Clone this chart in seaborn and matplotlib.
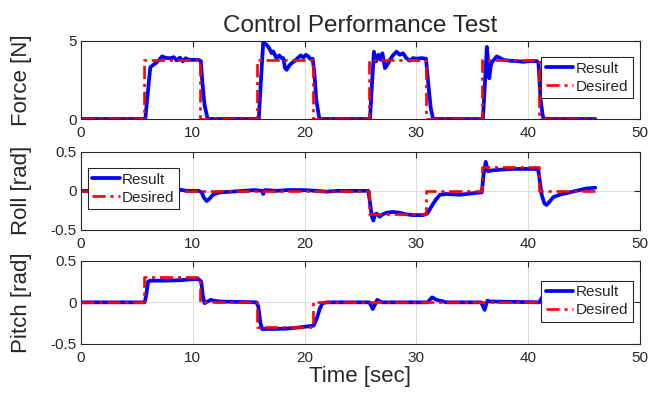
import matplotlib
matplotlib.use("Agg")
import matplotlib.pyplot as plt
import seaborn as sns
import pandas as pd

# ---------------- data ----------------
desired_t = [0, 5.6, 10.65, 15.7, 20.75, 25.8, 30.85, 35.9, 40.95, 46.0]
force_desired = [0, 3.75, 0, 3.75, 0, 3.75, 0, 3.75, 0, 0]
roll_desired = [0, 0, 0, 0, 0, -0.3, 0, 0.3, 0, 0]
pitch_desired = [0, 0.3, 0, -0.3, 0, 0, 0, 0, 0, 0]

force_t = [0, 5.75, 5.95, 6.2, 6.45, 6.75, 7.0, 7.25, 7.6, 8.0, 8.3, 8.55, 8.85, 9.1, 9.35, 9.65, 10.0,
           10.5, 10.72, 10.85, 11.05, 11.3, 11.45,
           15.9, 16.1, 16.3, 16.6, 16.83, 17.05, 17.2, 17.5, 17.74, 17.95, 18.1, 18.25, 18.4, 18.63, 18.85,
           19.14, 19.44, 19.65, 19.9, 20.1, 20.33, 20.48, 20.72, 20.87, 21.05, 21.3, 21.45,
           25.85, 26.05, 26.2, 26.39, 26.6, 26.8, 26.96, 27.19, 27.4, 27.64, 27.94, 28.23, 28.5, 28.8, 29.1,
           29.4, 29.7, 30.0, 30.47, 30.86, 31.07, 31.28, 31.5,
           35.95, 36.15, 36.3, 36.42, 36.52, 36.63, 36.73, 36.94, 37.18, 37.48, 37.77, 38.37, 38.97, 39.56,
           40.16, 40.76, 40.92, 41.1, 41.3, 41.45, 46.0]
force_res = [0, 0, 1.5, 3.3, 3.45, 3.6, 3.78, 4.0, 3.9, 3.88, 3.95, 3.75, 3.92, 3.68, 3.88, 3.78, 3.78,
             3.78, 3.7, 2.4, 0.9, 0.1, 0,
             0, 2.5, 4.9, 4.74, 4.53, 4.21, 4.32, 3.85, 4.06, 3.89, 3.89, 3.25, 3.14, 3.42, 3.57,
             3.72, 3.93, 4.06, 3.93, 4.1, 4.0, 3.85, 3.85, 3.0, 1.2, 0.1, 0,
             0, 2.5, 4.3, 3.67, 4.1, 3.78, 4.2, 3.25, 3.46, 3.78, 4.1, 4.3, 4.1, 4.2, 3.89,
             3.72, 3.89, 3.85, 3.89, 3.85, 2.2, 0.7, 0,
             0, 2.5, 4.6, 3.6, 2.6, 3.3, 3.6, 3.78, 4.0, 3.9, 3.78, 3.72, 3.7, 3.65,
             3.7, 3.7, 3.6, 1.3, 0.2, 0, 0]

roll_t = [0, 8.5, 8.6, 9.0, 9.5, 10.5, 10.8, 11.0, 11.25, 11.5, 11.8, 12.4, 13.5, 14.5, 15.5, 16.2, 16.3,
          16.45, 17.5, 18.5, 20, 21, 22, 23, 24, 25.7, 25.85, 26.0, 26.15, 26.3, 26.45, 26.7, 27.0, 27.3,
          27.9, 28.5, 29.1, 29.7, 30.6, 30.97, 31.35, 31.7, 32.1, 32.7, 33.9, 35.1, 35.85, 36.0, 36.2,
          36.4, 36.7, 37.5, 38.7, 40.5, 40.9, 41.2, 41.45, 41.65, 41.9, 42.25, 42.8, 44.0, 45.2, 46.0]
roll_res = [0, 0, 0.02, 0.01, 0, 0, -0.02, -0.09, -0.13, -0.1, -0.05, -0.02, -0.01, 0, 0.01, 0, -0.04,
            0.01, 0, 0.01, 0.01, 0, -0.01, 0, 0, 0, -0.15, -0.32, -0.38, -0.3, -0.29, -0.33, -0.3, -0.28,
            -0.27, -0.28, -0.3, -0.31, -0.31, -0.29, -0.2, -0.12, -0.05, -0.04, -0.05, -0.03, -0.02, 0.2, 0.37,
            0.25, 0.26, 0.27, 0.28, 0.28, 0.27, -0.05, -0.16, -0.18, -0.14, -0.08, -0.05, -0.01, 0.03, 0.04]

pitch_t = [0, 5.7, 5.85, 6.0, 6.2, 7.36, 8.86, 9.75, 10.5, 10.75, 10.9, 11.05, 11.2, 11.6, 11.9, 12.4,
           15.7, 15.86, 16.05, 16.2, 17.2, 18.4, 19.6, 20.8, 21.08, 21.35, 21.6, 22.0, 25.8, 26.1, 26.5,
           26.9, 31.0, 31.4, 31.8, 32.7, 35.8, 36.1, 36.35, 36.6, 41.0, 41.2, 41.5, 46.0]
pitch_res = [0, 0, 0.1, 0.25, 0.26, 0.26, 0.265, 0.275, 0.28, 0.25, 0.08, -0.01, 0, 0.03, 0.02, 0.01,
             0, -0.05, -0.25, -0.32, -0.32, -0.315, -0.3, -0.28, -0.2, -0.08, -0.01, 0, 0, -0.08, 0.03,
             0, 0, 0.06, 0.03, 0, 0, -0.09, 0.02, 0.01, 0, 0.05, 0.1, 0.1]

x_ticks = [0, 10, 20, 30, 40, 50]
title = "Control Performance Test"
xlabel = "Time [sec]"
ylabels = ["Force [N]", "Roll [rad]", "Pitch [rad]"]

# ---------------- style ----------------
sns.set_style("white")
plt.rcParams["font.family"] = ["Liberation Sans", "DejaVu Sans"]
dark = "#262626"
plt.rcParams.update({
    "axes.edgecolor": dark,
    "axes.linewidth": 0.8,
    "xtick.color": dark,
    "ytick.color": dark,
    "xtick.labelcolor": dark,
    "ytick.labelcolor": dark,
    "text.color": dark,
    "axes.labelcolor": dark,
})

fig = plt.figure(figsize=(6.52, 3.93), dpi=100)
positions = [
    [0.1242, 0.6972, 0.8574, 0.1992],
    [0.1242, 0.4148, 0.8574, 0.1992],
    [0.1242, 0.1247, 0.8574, 0.2120],
]

series = [
    (force_t, force_res, force_desired, (0, 5), [0, 5], ["0", "5"]),
    (roll_t, roll_res, roll_desired, (-0.5, 0.5), [-0.5, 0, 0.5], ["-0.5", "0", "0.5"]),
    (pitch_t, pitch_res, pitch_desired, (-0.5, 0.5), [-0.5, 0, 0.5], ["-0.5", "0", "0.5"]),
]
legend_specs = [
    dict(loc="upper right", bbox_to_anchor=(0.987, 0.79)),
    dict(loc="upper left", bbox_to_anchor=(0.012, 0.79)),
    dict(loc="upper right", bbox_to_anchor=(0.987, 0.76)),
]

axes = []
for i, (tt, rr, dd, ylim, yt, ytl) in enumerate(series):
    ax = fig.add_axes(positions[i])
    axes.append(ax)
    res_df = pd.DataFrame({"t": tt, "v": rr})
    des_df = pd.DataFrame({"t": desired_t, "v": dd})
    sns.lineplot(data=res_df, x="t", y="v", ax=ax, color=(0, 0, 1), linewidth=2.7,
                 estimator=None, sort=False, label="Result", zorder=3)
    sns.lineplot(data=des_df, x="t", y="v", ax=ax, color=(1, 0, 0), linewidth=1.9,
                 estimator=None, sort=False, label="Desired", drawstyle="steps-post",
                 linestyle=(0, (5, 1.8, 1.2, 1.8)), zorder=4)
    ax.set_xlim(0, 50)
    ax.set_ylim(*ylim)
    ax.set_xticks(x_ticks)
    ax.set_xticklabels([str(v) for v in x_ticks])
    ax.set_yticks(yt)
    ax.set_yticklabels(ytl)
    ax.grid(True, color="#dcdcdc", linewidth=0.7)
    ax.set_axisbelow(True)
    ax.tick_params(direction="in", length=4, width=0.8, top=True, right=True,
                   labelsize=11)
    ax.tick_params(axis="x", pad=5)
    ax.tick_params(axis="y", pad=3)
    ax.set_xlabel("")
    ax.set_ylabel(ylabels[i], fontsize=16)
    ax.yaxis.set_label_coords(-0.088, 0.5)
    for sp in ax.spines.values():
        sp.set_visible(True)
        sp.set_color(dark)
        sp.set_linewidth(0.8)
    leg = ax.legend(fontsize=11, frameon=True, fancybox=False, framealpha=1,
                    edgecolor=dark, borderpad=0.3, labelspacing=0.25,
                    handlelength=1.8, handletextpad=0.15, borderaxespad=0,
                    **legend_specs[i])
    leg.get_frame().set_linewidth(0.8)
    leg.set_zorder(10)

axes[0].set_title(title, fontsize=17.5, pad=6)
axes[2].set_xlabel(xlabel, fontsize=16, labelpad=1)

fig.savefig("out.png", dpi=100)
